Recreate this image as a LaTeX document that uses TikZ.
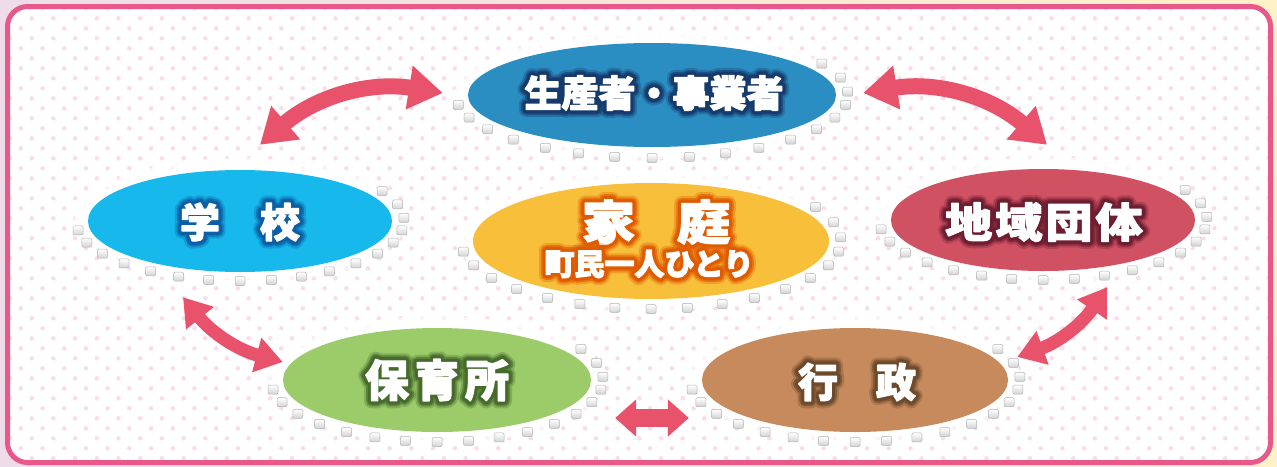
\documentclass[tikz,border=0pt]{standalone}
\usepackage{fontspec}
\newfontfamily\jp{Noto Sans CJK JP}
\newfontfamily\jpwide{Noto Sans CJK JP}[FakeStretch=1.15]
\usetikzlibrary{shapes.geometric,arrows.meta,calc}
\definecolor{framepink}{HTML}{E8588A}
\definecolor{arrowred}{HTML}{E8526B}
\definecolor{dotpink}{HTML}{F9DDEB}
\definecolor{cProd}{HTML}{2B8EC3}
\definecolor{cSchool}{HTML}{17B8EC}
\definecolor{cFamily}{HTML}{F8BF3B}
\definecolor{cRegion}{HTML}{D05262}
\definecolor{cNursery}{HTML}{9CCB6A}
\definecolor{cAdmin}{HTML}{C78A5C}
\definecolor{bgL}{HTML}{EEDCEB}
\definecolor{bgR}{HTML}{FFF2C6}
\tikzset{
  oval/.style={ellipse, inner sep=0pt, draw=none},
  pebble/.style={draw=gray!60, top color=white, bottom color=gray!35, line width=0.5pt, rounded corners=1.2pt},
  bigarrow/.style={draw=arrowred, line width=16pt, {Triangle[length=34pt,width=42pt]}-{Triangle[length=34pt,width=42pt]}},
  midarrow/.style={draw=arrowred, line width=13pt, {Triangle[length=27pt,width=34pt]}-{Triangle[length=27pt,width=34pt]}},
  flatarrow/.style={draw=arrowred, line width=18pt, {Triangle[length=21pt,width=36pt]}-{Triangle[length=21pt,width=36pt]}},
}
% #1 name, #2 coordinate, #3 glow colour as "r g b", #4 text with its font
\newcommand\glowtext[4]{%
  \node[opacity=0.3] at (#2) {\special{pdf:literal direct 2 Tr 1 j 15 w #3 RG #3 rg}#4\special{pdf:literal direct 0 Tr}};
  \node[opacity=0.6] at (#2) {\special{pdf:literal direct 2 Tr 1 j 11 w #3 RG #3 rg}#4\special{pdf:literal direct 0 Tr}};
  \node at (#2) {\special{pdf:literal direct 2 Tr 1 j 7.5 w #3 RG #3 rg}#4\special{pdf:literal direct 0 Tr}};
  \node[text=white] (#1) at (#2) {\special{pdf:literal direct 2 Tr 1 j 1.2 w 1 1 1 RG}#4\special{pdf:literal direct 0 Tr}};
}
\newcommand\pebblering[3]{%
  \foreach \pt in {-30,-16,-3,9,21,33,45,57,68,79,90,101,112,123,135,147,159,171} {\path[pebble] ($(#1)+(\pt:#2 and #3)$) ++(-5,-4.5) rectangle ++(10,9);}
}
\newcommand\halo[3]{%
  \fill[white, opacity=0.6] (#1) ellipse [x radius=#2+14, y radius=#3+12];
  \fill[white] (#1) ellipse [x radius=#2+7, y radius=#3+6];
}
\begin{document}
\begin{tikzpicture}[x=1pt,y=-1pt]
\useasboundingbox (0,0) rectangle (1277,466);
\shade[left color=bgL, right color=bgR] (0,0) rectangle (1277,466);
\fill[white, rounded corners=18pt] (8,7) rectangle (1271,462);
\begin{scope}
  \clip[rounded corners=18pt] (8,7) rectangle (1271,462);
  \foreach \j in {0,...,46} {
    \pgfmathsetmacro\yy{8.3+10*\j}
    \pgfmathsetmacro\off{mod(\j+1,2)*10.85}
    \foreach \i in {0,...,58} {\fill[dotpink] (10+\off+21.7*\i,\yy) circle (2.3);}
  }
\end{scope}
\draw[framepink, line width=5pt, rounded corners=20pt] (7.5,6.5) rectangle (1270.5,462.5);

\coordinate (pc) at (652,95);
\coordinate (sc) at (240,221);
\coordinate (fc) at (651,241);
\coordinate (rc) at (1043,220);
\coordinate (nc) at (437,380);
\coordinate (ac) at (855,380);

\halo{pc}{184}{52}
\halo{sc}{152}{51}
\halo{fc}{178}{58}
\halo{rc}{152}{51}
\halo{nc}{154}{52}
\halo{ac}{153}{52}

\pebblering{pc}{196}{63}
\pebblering{sc}{164}{60}
\pebblering{fc}{190}{68}
\pebblering{rc}{164}{60}
\pebblering{nc}{166}{62}
\pebblering{ac}{165}{62}

\node[oval, fill=cProd, minimum width=368pt, minimum height=104pt] (prod) at (pc) {};
\node[oval, fill=cSchool, minimum width=304pt, minimum height=102pt] (school) at (sc) {};
\node[oval, fill=cFamily, minimum width=356pt, minimum height=116pt] (family) at (fc) {};
\node[oval, fill=cRegion, minimum width=304pt, minimum height=102pt] (region) at (rc) {};
\node[oval, fill=cNursery, minimum width=308pt, minimum height=104pt] (nursery) at (nc) {};
\node[oval, fill=cAdmin, minimum width=306pt, minimum height=104pt] (admin) at (ac) {};

\coordinate (a1) at ($(school.north)+(20,-25)$);
\coordinate (a2) at ($(prod.west)+(-25,-2)$);
\coordinate (b1) at ($(prod.east)+(27,-2)$);
\coordinate (b2) at ($(region.north)+(4,-24)$);
\coordinate (c1) at ($(school.south)+(-57,25)$);
\coordinate (c2) at ($(nursery.west)+(0,-18)$);
\coordinate (d1) at ($(region.south)+(64,16)$);
\coordinate (d2) at ($(admin.east)+(9,-23)$);
\coordinate (e1) at ($(nursery.east)+(24,38)$);
\coordinate (e2) at ($(admin.west)+(-13,38)$);

\draw[bigarrow] (a1) to[bend left=25] (a2);
\draw[bigarrow] (b1) to[bend left=25] (b2);
\draw[midarrow] (c1) to[bend right=18] (c2);
\draw[midarrow] (d2) to[bend right=18] (d1);
\draw[flatarrow] (e1) -- (e2);

\coordinate (tp) at (654,93);
\coordinate (ts) at (240,222);
\coordinate (tf) at (656,222);
\coordinate (tf2) at (649,264);
\coordinate (tr) at (1044,222);
\coordinate (tn) at (437,380);
\coordinate (ta) at (857,382);

\glowtext{prodtext}{tp}{0.086 0.227 0.420}{\jp\bfseries\fontsize{37pt}{37pt}\selectfont 生産者・事業者}
\glowtext{schooltext}{ts}{0.043 0.373 0.647}{\jp\bfseries\fontsize{40pt}{40pt}\selectfont 学\kern40pt 校}
\glowtext{familytext}{tf}{0.878 0.353 0}{\jpwide\bfseries\fontsize{47pt}{47pt}\selectfont 家\kern41pt 庭}
\glowtext{familysub}{tf2}{0.878 0.353 0}{\jp\bfseries\fontsize{30pt}{30pt}\selectfont 町民一人ひとり}
\glowtext{regiontext}{tr}{0.431 0.118 0.188}{\jpwide\bfseries\fontsize{41pt}{41pt}\selectfont 地\kern3pt 域\kern3pt 団\kern3pt 体}
\glowtext{nurserytext}{tn}{0.275 0.420 0.173}{\jp\bfseries\fontsize{44pt}{44pt}\selectfont 保\kern6pt 育\kern6pt 所}
\glowtext{admintext}{ta}{0.431 0.290 0.173}{\jp\bfseries\fontsize{40pt}{40pt}\selectfont 行\kern38pt 政}
\end{tikzpicture}
\end{document}
